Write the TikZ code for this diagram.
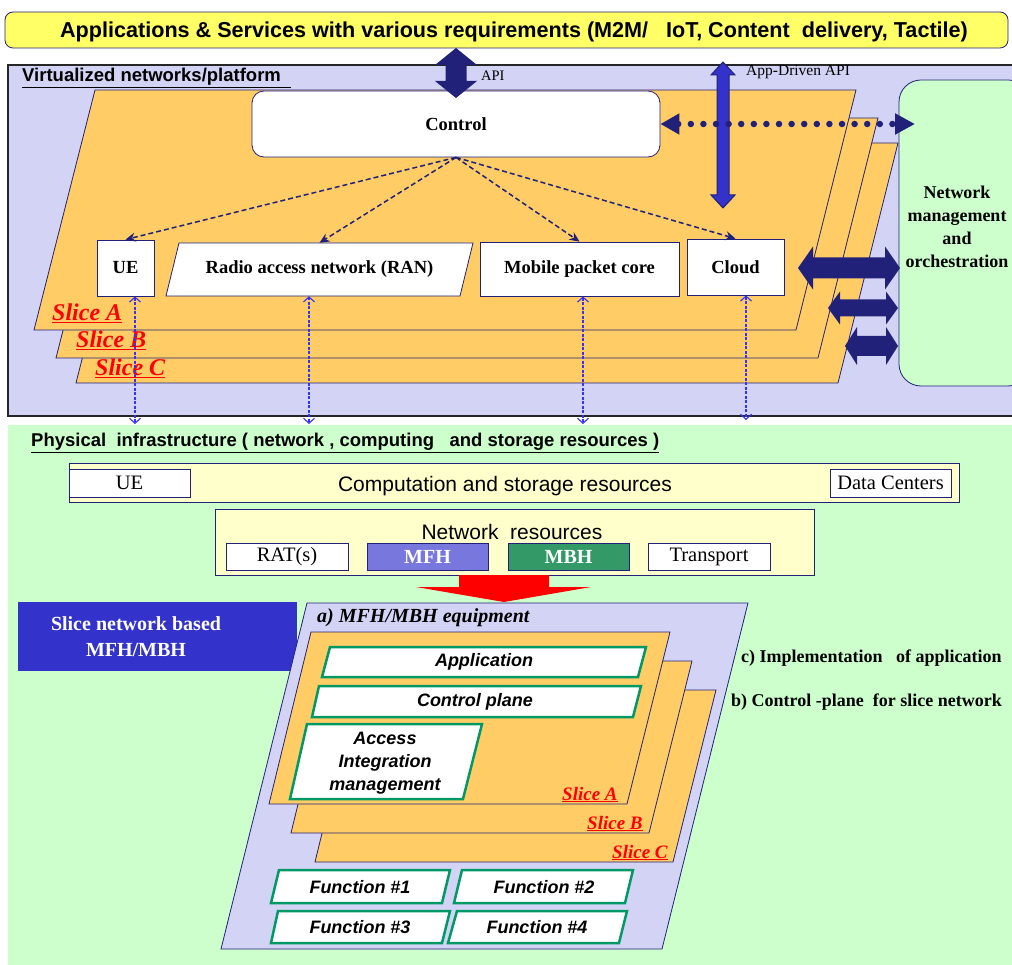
\documentclass[tikz,border=0pt]{standalone}
\usepackage{fontspec}
\setmainfont{Liberation Serif}
\setsansfont{Liberation Sans}
\usetikzlibrary{arrows.meta}

\definecolor{navy}{RGB}{33,33,122}
\definecolor{lav}{RGB}{211,211,245}
\definecolor{sliceor}{RGB}{255,204,102}
\definecolor{mint}{RGB}{204,255,204}
\definecolor{yel}{RGB}{255,255,102}
\definecolor{ltyel}{RGB}{255,255,204}
\definecolor{appblue}{RGB}{51,51,204}
\definecolor{linkblue}{RGB}{51,51,255}
\definecolor{mfhblue}{RGB}{119,119,221}
\definecolor{mbhgreen}{RGB}{51,153,102}
\definecolor{edgegreen}{RGB}{0,153,102}

% fat double arrows: [style]{x1}{x2}{y}{shaft}{head}{head length}
\newcommand{\hblock}[7][fill=navy]{%
  \path[#1] (#2,#4) -- (#2+#7,#4-#6) -- (#2+#7,#4-#5) -- (#3-#7,#4-#5) -- (#3-#7,#4-#6)
    -- (#3,#4) -- (#3-#7,#4+#6) -- (#3-#7,#4+#5) -- (#2+#7,#4+#5) -- (#2+#7,#4+#6) -- cycle;}
% [style]{x}{y1}{y2}{shaft}{head}{head length}
\newcommand{\vblock}[7][fill=navy]{%
  \path[#1] (#2,#3) -- (#2+#6,#3+#7) -- (#2+#5,#3+#7) -- (#2+#5,#4-#7) -- (#2+#6,#4-#7)
    -- (#2,#4) -- (#2-#6,#4-#7) -- (#2-#5,#4-#7) -- (#2-#5,#3+#7) -- (#2-#6,#3+#7) -- cycle;}

\tikzset{
  box/.style={draw=navy, fill=white, line width=0.8pt},
  slice/.style={draw=navy, fill=sliceor, line width=0.8pt},
  slicelbl/.style={anchor=base west, text=red, font=\bfseries\itshape\fontsize{24}{26}\selectfont},
  smslicelbl/.style={anchor=base west, text=red, font=\bfseries\itshape\fontsize{19}{21}\selectfont},
  sertxt/.style={font=\bfseries\fontsize{18.5}{23}\selectfont},
  plaintxt/.style={font=\fontsize{20.5}{23}\selectfont},
  ctrlline/.style={navy, line width=1.5pt, dash pattern=on 5pt off 3pt, -{Stealth[length=10pt,width=9pt]}},
  vlink/.style={linkblue, line width=1.1pt, dash pattern=on 3pt off 1.5pt, {Straight Barb[length=5pt,width=11pt]}-{Straight Barb[length=5pt,width=11pt]}},
  gbox/.style={draw=edgegreen, fill=white, line width=2.5pt},
  gtxt/.style={font=\sffamily\bfseries\itshape\fontsize{18}{23}\selectfont, align=center}
}

\begin{document}
\begin{tikzpicture}[x=1pt, y=-1pt, every node/.style={inner sep=0pt}]
\useasboundingbox (0,0) rectangle (1012,965);

% Panels
\draw[fill=lav, draw=black!85, line width=1.6pt] (8,65) rectangle (1030,416);
\fill[mint] (8,425) rectangle (1030,985);

\node[anchor=west, font=\sffamily\bfseries\fontsize{18.5}{22}\selectfont] (virt) at (22,78) {\underline{Virtualized networks/platform\ \ }};

% Slices of the virtualized platform
\foreach \dx/\dy in {42/53, 22/28, 0/0}
  \draw[slice, shift={(\dx,\dy)}] (95,90) -- (856,90) -- (796,330) -- (34,330) -- cycle;

\node[slicelbl] (slA) at (52,321) {\underline{Slice A}};
\node[slicelbl] (slB) at (76,348) {\underline{Slice B}};
\node[slicelbl] (slC) at (95,376) {\underline{Slice C}};

% Control and the boxes below it
\node[box, rounded corners=12pt, minimum width=408pt, minimum height=66pt, sertxt] (ctrl) at (456,124) {Control};
\node[box, minimum width=57pt, minimum height=56pt, sertxt] (ue) at (125.5,268) {UE};
\draw[box] (179,243) -- (473,243) -- (460,296) -- (166,296) -- cycle;
\node[minimum width=280pt, minimum height=53pt, sertxt] (ran) at (319.5,269.5) {Radio access network (RAN)};
\node[box, minimum width=199pt, minimum height=54pt, sertxt] (mpc) at (579.5,269) {Mobile packet core};
\node[box, minimum width=97pt, minimum height=56pt, sertxt] (cloud) at (735.5,267) {Cloud};

\foreach \b in {ue, ran, mpc, cloud}
  \draw[ctrlline] (ctrl.south) -- (\b.north);

% Network management
\node[draw=navy, fill=mint, rounded corners=22pt, line width=0.8pt, minimum width=131pt, minimum height=306pt] (nm) at (964.5,233) {};
\node[font=\bfseries\fontsize{18}{23}\selectfont, align=center] (nmtxt) at (957,227) {Network\\management\\and\\orchestration};

\hblock{798}{900}{268}{10.5}{21.5}{15}
\hblock{828}{898}{308}{8.5}{16.5}{12}
\hblock{845}{898}{346}{10}{19}{12}

% Applications on top
\node[draw=navy, fill=yel, rounded corners=8pt, line width=0.8pt, minimum width=1003pt, minimum height=36pt] (apps) at (506.5,30) {};
\node[font=\sffamily\bfseries\fontsize{21.6}{24}\selectfont] (appstxt) at (514,32) {Applications \& Services with various requirements (M2M/\ \ \ IoT, Content\ \ delivery, Tactile)};

\vblock{456}{48}{98}{10.5}{21}{17}
\node[anchor=west, font=\fontsize{14.5}{16}\selectfont] (api) at (481,76) {API};

\vblock[fill=appblue, draw=navy, line width=1pt]{723}{62}{208}{6}{12}{13}
\node[anchor=west, font=\fontsize{15.5}{17}\selectfont] (appapi) at (746,72) {App-Driven API};

\coordinate (nmdot) at (915,124);
\draw[navy, line width=6.5pt, line cap=round, dash pattern=on 0pt off 12.6pt,
  {Triangle[length=19pt,width=20pt]}-{Triangle[length=20pt,width=20pt]}] (ctrl.east) -- (nmdot);

% Physical infrastructure
\node[anchor=west, font=\sffamily\bfseries\fontsize{18.5}{21}\selectfont] (phys) at (31,443) {\underline{Physical\ \ infrastructure ( network , computing\ \ \ and storage resources )}};

\node[box, fill=ltyel, minimum width=890pt, minimum height=39pt] (comp) at (514,482.5) {};
\node[font=\sffamily\fontsize{21}{24}\selectfont] (comptxt) at (505,486) {Computation and storage resources};
\node[box, minimum width=121pt, minimum height=28pt, plaintxt] (ue2) at (129.5,483) {UE};
\node[box, minimum width=121pt, minimum height=28pt, plaintxt] (dc) at (890.5,483) {Data Centers};

\node[box, fill=ltyel, minimum width=599pt, minimum height=66pt] (netres) at (514.5,542) {};
\node[font=\sffamily\fontsize{21}{24}\selectfont] (netrestxt) at (512,532) {Network\ \ resources};
\node[box, minimum width=122pt, minimum height=27pt, plaintxt] (rat) at (287,556.5) {RAT(s)};
\node[box, fill=mfhblue, text=white, minimum width=121pt, minimum height=27pt, font=\bfseries\fontsize{20}{23}\selectfont] (mfh) at (427.5,556.5) {MFH};
\node[box, fill=mbhgreen, text=white, minimum width=121pt, minimum height=27pt, font=\bfseries\fontsize{20}{23}\selectfont] (mbh) at (568.5,556.5) {MBH};
\node[box, minimum width=122pt, minimum height=27pt, plaintxt] (tr) at (709,556.5) {Transport};

% Red arrow down
\fill[red] (459,575) -- (549,575) -- (549,587) -- (591,587) -- (504,602) -- (416,587) -- (459,587) -- cycle;

% Slice network based MFH/MBH
\node[fill=appblue, minimum width=279pt, minimum height=69pt] (sbox) at (157.5,636.5) {};
\node[text=white, align=center, font=\bfseries\fontsize{20}{26}\selectfont] (sboxtxt) at (136,637) {Slice network based\\MFH/MBH};

% Equipment
\draw[fill=lav, draw=navy, line width=0.8pt] (307,603) -- (748,603) -- (662,949) -- (221,949) -- cycle;
\node[anchor=west, font=\bfseries\itshape\fontsize{20}{22}\selectfont] (equip) at (317,618) {a) MFH/MBH equipment};

\foreach \dx/\dy in {46/58, 22/29, 0/0}
  \draw[slice, shift={(\dx,\dy)}] (311,632) -- (670,632) -- (627,804) -- (269,804) -- cycle;

\node[smslicelbl] (eslA) at (562,800) {\underline{Slice A}};
\node[smslicelbl] (eslB) at (587,829) {\underline{Slice B}};
\node[smslicelbl] (eslC) at (612,858) {\underline{Slice C}};

\draw[gbox] (330,647) -- (646,647) -- (638,677) -- (322,677) -- cycle;
\node[gtxt] (appl) at (484,662) {Application};
\draw[gbox] (319,686) -- (641,686) -- (633,717) -- (312,717) -- cycle;
\node[gtxt] (cplane) at (475,702) {Control plane};
\draw[gbox] (307,724) -- (482,724) -- (463,799) -- (290,799) -- cycle;
\node[gtxt] (aim) at (385,763) {Access\\Integration\\management};

\draw[gbox] (279,870) -- (450,870) -- (442,903) -- (271,903) -- cycle;
\node[gtxt] (fn1) at (360,887) {Function \#1};
\draw[gbox] (462,870) -- (633,870) -- (625,903) -- (454,903) -- cycle;
\node[gtxt] (fn2) at (544,887) {Function \#2};
\draw[gbox] (278,911) -- (450,911) -- (442,943) -- (271,943) -- cycle;
\node[gtxt] (fn3) at (360,927) {Function \#3};
\draw[gbox] (457,911) -- (627,911) -- (619,943) -- (448,943) -- cycle;
\node[gtxt] (fn4) at (537,927) {Function \#4};

\node[anchor=west, font=\bfseries\fontsize{18}{21}\selectfont] (impl) at (741,658) {c) Implementation\ \ \ of application};
\node[anchor=west, font=\bfseries\fontsize{18}{21}\selectfont] (cpl) at (731,702) {b) Control -plane\ \ for slice network};

% Links down to the physical infrastructure
\coordinate (uebot) at (135,424);
\coordinate (ranbot) at (309,424);
\coordinate (mpcbot) at (583,424);
\coordinate (cloudbot) at (746,420);
\draw[vlink] (uebot |- ue.south) -- (uebot);
\draw[vlink] (ranbot |- ran.south) -- (ranbot);
\draw[vlink] (mpcbot |- mpc.south) -- (mpcbot);
\draw[vlink] (cloudbot |- cloud.south) -- (cloudbot);

\end{tikzpicture}
\end{document}
